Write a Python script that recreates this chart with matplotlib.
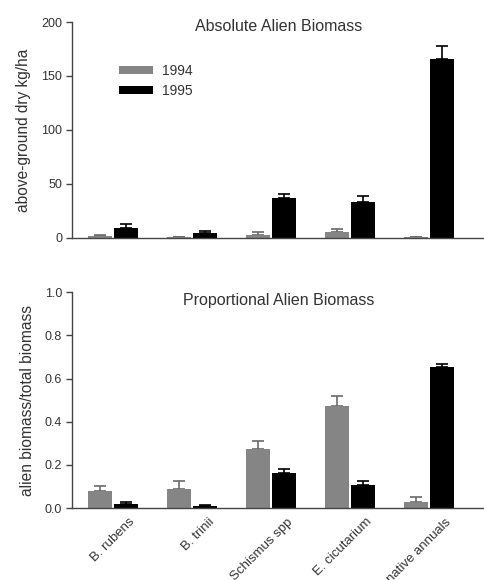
import matplotlib
matplotlib.use("Agg")
import matplotlib.pyplot as plt
import matplotlib.transforms as mtransforms
import numpy as np

plt.rcParams['font.family'] = ['Liberation Sans', 'DejaVu Sans']

categories = ["B. rubens", "B. trinii", "Schismus spp", "E. cicutarium", "native annuals"]
years = ["1994", "1995"]

abs_1994 = [1.5, 0.5, 3.0, 5.0, 0.5]
abs_1994_err = [1.0, 0.5, 2.0, 3.0, 0.3]
abs_1995 = [9.5, 4.5, 37.0, 33.5, 166.0]
abs_1995_err = [3.0, 1.5, 4.0, 5.5, 12.0]

prop_1994 = [0.077, 0.09, 0.275, 0.473, 0.028]
prop_1994_err = [0.025, 0.035, 0.035, 0.045, 0.022]
prop_1995 = [0.020, 0.008, 0.164, 0.105, 0.652]
prop_1995_err = [0.008, 0.004, 0.016, 0.019, 0.018]

gray = "#858585"
black = "#000000"
txt = '#333333'

fig = plt.figure(figsize=(4.85, 5.8), dpi=100)
ax1 = fig.add_axes([0.148, 0.590, 0.852, 0.372])
ax2 = fig.add_axes([0.148, 0.124, 0.852, 0.372])

x = np.arange(len(categories))
w = 0.31
off = 0.165

def draw(ax, v94, e94, v95, e95):
    ax.bar(x - off, v94, w, color=gray, label=years[0], zorder=2)
    ax.bar(x + off, v95, w, color=black, label=years[1], zorder=2)
    ax.errorbar(x - off, v94, yerr=[np.zeros(len(v94)), e94], fmt='none',
                ecolor="#6a6a6a", elinewidth=1.2, capsize=4, capthick=1.2, zorder=1)
    ax.errorbar(x + off, v95, yerr=[np.zeros(len(v95)), e95], fmt='none',
                ecolor=black, elinewidth=1.2, capsize=4, capthick=1.2, zorder=1)
    ax.set_xlim(-0.52, 4.71)
    for s in ['top', 'right']:
        ax.spines[s].set_visible(False)
    for s in ['left', 'bottom']:
        ax.spines[s].set_color('#444444')
        ax.spines[s].set_linewidth(1.0)
    ax.tick_params(axis='x', length=0)
    ax.tick_params(axis='y', length=4, width=1.0, color='#444444',
                   labelsize=9, labelcolor=txt, pad=3)
    ax.set_xticks(x)

draw(ax1, abs_1994, abs_1994_err, abs_1995, abs_1995_err)
ax1.set_ylim(0, 200)
ax1.set_yticks([0, 50, 100, 150, 200])
ax1.set_xticklabels([])
ax1.set_ylabel("above-ground dry kg/ha", fontsize=11.2, color=txt, labelpad=7)
ax1.text(0.5, 0.981, "Absolute Alien Biomass", transform=ax1.transAxes,
         ha='center', va='center', fontsize=11.5, color=txt)
leg = ax1.legend(loc='upper left', bbox_to_anchor=(0.085, 0.865), frameon=False,
                 fontsize=10, handlelength=2.4, handleheight=0.55, labelspacing=0.45,
                 handletextpad=0.7)
for t in leg.get_texts():
    t.set_color(txt)

draw(ax2, prop_1994, prop_1994_err, prop_1995, prop_1995_err)
ax2.set_ylim(0, 1.0)
ax2.set_yticks([0.0, 0.2, 0.4, 0.6, 0.8, 1.0])
ax2.set_yticklabels(["0.0", "0.2", "0.4", "0.6", "0.8", "1.0"])
ax2.set_ylabel("alien biomass/total biomass", fontsize=11.2, color=txt, labelpad=7)
ax2.text(0.5, 0.963, "Proportional Alien Biomass", transform=ax2.transAxes,
         ha='center', va='center', fontsize=11.5, color=txt)
ax2.set_xticklabels(categories, rotation=45, ha='right', rotation_mode='anchor',
                    fontsize=9.5, color=txt)
for lbl in ax2.get_xticklabels():
    lbl.set_transform(lbl.get_transform() + mtransforms.ScaledTranslation(0.16, -0.03, fig.dpi_scale_trans))

fig.savefig("out.png", dpi=100)
